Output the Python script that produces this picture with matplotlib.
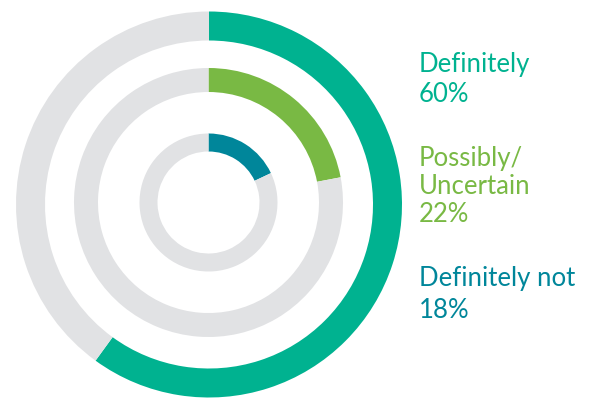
import matplotlib.pyplot as plt

# survey answers, share of respondents
labels = ['Definitely\n60%', 'Possibly/\nUncertain\n22%', 'Definitely not\n18%']
shares = [60, 22, 18]
colors = ['#00b290', '#79b944', '#00869a']
track = '#e1e2e4'

W, H = 594, 398
fig = plt.figure(figsize=(W / 100, H / 100), dpi=100)
ax = fig.add_axes([0, 0, 1, 1])

# centre (px from top-left), outer radius, ring width
rings = [((209, 204.5), 193, 29), ((208.5, 202.5), 134.5, 24), ((208.5, 202.5), 69, 18)]

for ((cx, cy), r, w), share, col in zip(rings, shares, colors):
    ax.pie([share, 100 - share], colors=[col, track], radius=r, center=(cx, H - cy),
           startangle=90, counterclock=False,
           wedgeprops=dict(width=w, linewidth=0))

# labels on the right, one line at a time
baselines = [[72, 102.5], [166, 194, 222.5], [286, 318]]
for lab, col, ys in zip(labels, colors, baselines):
    for line, y in zip(lab.split('\n'), ys):
        ax.text(419, H - y, line, color=col, fontsize=18.5, family='Lato',
                ha='left', va='baseline')

ax.set_xlim(0, W)
ax.set_ylim(0, H)
ax.set_aspect('equal')
ax.axis('off')
fig.savefig('out.png', dpi=100)
